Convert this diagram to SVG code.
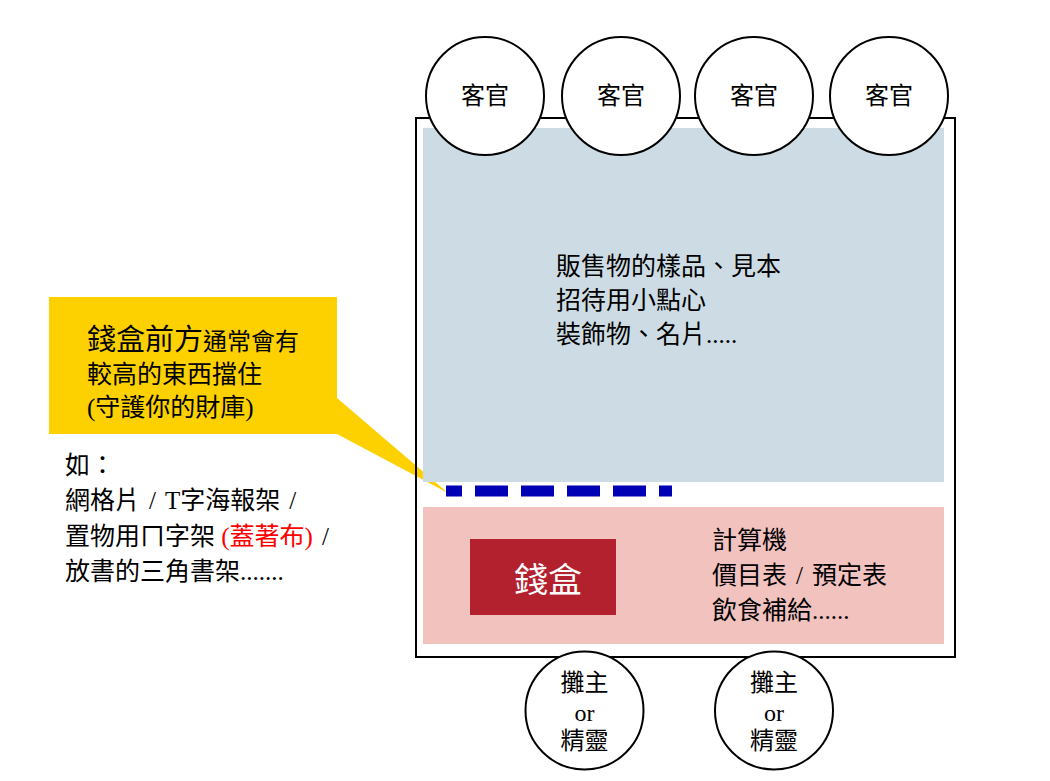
<svg xmlns="http://www.w3.org/2000/svg" width="1050" height="781" viewBox="0 0 1050 781">
<style>
text{font-family:"Liberation Serif","Noto Sans CJK TC",serif;fill:#000;}
.t25{font-size:25px;}
.t24{font-size:24px;}
.person{fill:#fff;stroke:#000;stroke-width:2;}
.c{text-anchor:middle;}
</style>
<rect x="0" y="0" width="1050" height="781" fill="#fff"/>
<g id="callout">
<polygon points="49,297 337,297 337,398 448,493 337,434 49,434" fill="#fdd000"/>
<text x="87" y="350" font-size="24"><tspan font-size="29">錢盒前方</tspan>通常會有</text>
<text class="t25" x="87" y="383">較高的東西擋住</text>
<text class="t25" x="87" y="416">(守護你的財庫)</text>
</g>
<g id="examples">
<text class="t25" x="65" y="474">如：</text>
<text class="t25" x="65" y="509">網格片<tspan dx="9">/</tspan><tspan dx="9">T字海報架</tspan><tspan dx="9">/</tspan></text>
<text class="t25" x="65" y="545">置物用ㄇ字架 <tspan fill="#ff0000">(蓋著布)</tspan><tspan dx="9">/</tspan></text>
<text class="t25" x="65" y="580">放書的三角書架.......</text>
</g>
<g id="display-area">
<rect x="423" y="128" width="521" height="354" fill="#cddce4"/>
<text class="t25" x="556" y="275">販售物的樣品、見本</text>
<text class="t25" x="556" y="309">招待用小點心</text>
<text class="t25" x="556" y="343">裝飾物、名片.....</text>
</g>
<g id="staff-area">
<rect x="423" y="507" width="521" height="137" fill="#f2c2bf"/>
<text class="t25" x="712" y="549">計算機</text>
<text class="t25" x="712" y="584">價目表<tspan dx="9">/</tspan><tspan dx="9">預定表</tspan></text>
<text class="t25" x="712" y="619">飲食補給......</text>
</g>
<g id="cashbox">
<rect x="470" y="539" width="146" height="76" fill="#b3212f"/>
<text class="c" x="548" y="592" font-size="34" style="fill:#fff">錢盒</text>
</g>
<g id="booth">
<rect x="416" y="118" width="539" height="539" fill="none" stroke="#000" stroke-width="2"/>
</g>
<g id="barrier">
<line x1="446" y1="491" x2="672" y2="491" stroke="#0000b4" stroke-width="11" stroke-dasharray="33 13" stroke-dashoffset="17"/>
</g>
<g id="guest1"><circle class="person" cx="485" cy="96" r="59"/><text class="t24 c" x="485" y="104">客官</text></g>
<g id="guest2"><circle class="person" cx="621" cy="96" r="59"/><text class="t24 c" x="621" y="104">客官</text></g>
<g id="guest3"><circle class="person" cx="754" cy="96" r="59"/><text class="t24 c" x="754" y="104">客官</text></g>
<g id="guest4"><circle class="person" cx="889" cy="96" r="59"/><text class="t24 c" x="889" y="104">客官</text></g>
<g id="owner1"><circle class="person" cx="584.5" cy="710.5" r="59"/>
<text class="t24 c" x="584.5" y="691">攤主</text><text class="t24 c" x="584.5" y="721">or</text><text class="t24 c" x="584.5" y="749">精靈</text></g>
<g id="owner2"><circle class="person" cx="774" cy="710.5" r="59"/>
<text class="t24 c" x="774" y="691">攤主</text><text class="t24 c" x="774" y="721">or</text><text class="t24 c" x="774" y="749">精靈</text></g>
<g id="connectors"></g>
</svg>
